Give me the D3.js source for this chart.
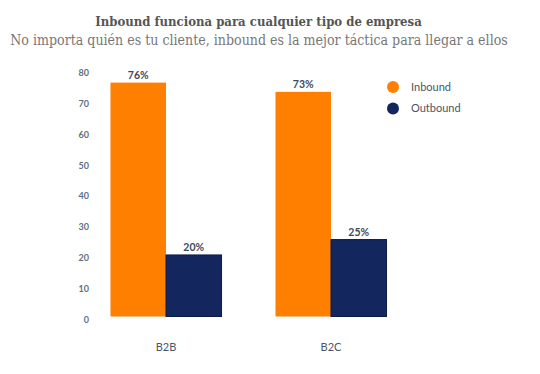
<!DOCTYPE html>
<html>
<head>
<meta charset="utf-8">
<script src="https://cdn.jsdelivr.net/npm/d3@7"></script>
<style>
  body { margin: 0; background: #fff; }
  svg { display: block; }
</style>
</head>
<body>
<svg id="chart" width="540" height="374"></svg>
<script>
// Chart data
const categories = ['B2B', 'B2C'];
const seriesNames = ['Inbound', 'Outbound'];
const inboundValues = [76, 73];
const outboundValues = [20, 25];
const yTicks = [0, 10, 20, 30, 40, 50, 60, 70, 80];

const colors = { Inbound: '#ff7f00', Outbound: '#13275e' };
const textColor = '#3d4a5c';
const axisColor = '#5f6f82';

const svg = d3.select('#chart');

// Serif heading squeezed to the reference width (no slab font installed)
function heading(text, cx, cy, size, weight, fill, targetWidth) {
  const t = svg.append('text')
    .attr('text-anchor', 'middle')
    .attr('font-family', '"DejaVu Serif", serif')
    .attr('font-weight', weight)
    .attr('font-size', size)
    .attr('fill', fill)
    .text(text);
  const natural = t.node().getComputedTextLength();
  const k = Math.min(1, targetWidth / natural);
  t.attr('transform', `translate(${cx},${cy}) scale(${k},1)`);
}

heading('Inbound funciona para cualquier tipo de empresa', 258.5, 26, 13.5, 'bold', '#555', 327);
heading('No importa quién es tu cliente, inbound es la mejor táctica para llegar a ellos', 259, 45, 14.5, 'normal', '#777', 498);

// Scales
const x0 = d3.scaleBand()
  .domain(categories)
  .range([83.5, 413.5])
  .paddingInner(0.327)
  .paddingOuter(0.1635);

const x1 = d3.scaleBand()
  .domain(seriesNames)
  .range([0, x0.bandwidth()]);

const y = d3.scaleLinear()
  .domain([0, 80])
  .range([316.5, 70.3]);

// Y axis (labels only)
const yAxis = svg.append('g')
  .attr('transform', 'translate(89,0)')
  .call(d3.axisLeft(y).tickValues(yTicks).tickSize(0).tickPadding(0));
yAxis.select('.domain').remove();
yAxis.selectAll('text')
  .attr('dy', '0.62em')
  .attr('font-family', 'Lato, sans-serif')
  .attr('font-weight', 'bold')
  .attr('font-size', 9)
  .attr('fill', axisColor);

// X axis (labels only)
const xAxis = svg.append('g')
  .attr('transform', 'translate(0,316.5)')
  .call(d3.axisBottom(x0).tickSize(0).tickPadding(0));
xAxis.select('.domain').remove();
xAxis.selectAll('text')
  .attr('dy', 0)
  .attr('y', 34.5)
  .attr('font-family', 'Lato, sans-serif')
  .attr('font-size', 11)
  .attr('fill', '#4a5566');

// Bars
const rows = categories.map((c, i) => ({
  category: c,
  values: [
    { series: 'Inbound', value: inboundValues[i] },
    { series: 'Outbound', value: outboundValues[i] }
  ]
}));

const groups = svg.append('g').attr('class', 'bars')
  .selectAll('g')
  .data(rows)
  .join('g')
  .attr('transform', d => `translate(${x0(d.category)},0)`);

groups.selectAll('rect')
  .data(d => d.values)
  .join('rect')
  .attr('x', d => x1(d.series))
  .attr('y', d => y(d.value))
  .attr('width', x1.bandwidth())
  .attr('height', d => y(0) - y(d.value))
  .attr('fill', d => colors[d.series])
  .attr('stroke', d => d.series === 'Outbound' ? '#0b1a4a' : 'none')
  .attr('stroke-width', 1);

groups.selectAll('text')
  .data(d => d.values)
  .join('text')
  .attr('x', d => x1(d.series) + x1.bandwidth() / 2)
  .attr('y', d => y(d.value) - 4)
  .attr('text-anchor', 'middle')
  .attr('font-family', 'Lato, sans-serif')
  .attr('font-weight', 'bold')
  .attr('font-size', 10.5)
  .attr('fill', textColor)
  .text(d => `${d.value}%`);

// Legend
const legend = svg.append('g')
  .attr('transform', 'translate(393,87)')
  .selectAll('g')
  .data(seriesNames)
  .join('g')
  .attr('transform', (d, i) => `translate(0,${i * 21.5})`);

legend.append('circle')
  .attr('r', 6)
  .attr('fill', d => colors[d]);

legend.append('text')
  .attr('x', 18)
  .attr('dy', '0.35em')
  .attr('font-family', 'Lato, sans-serif')
  .attr('font-size', 11)
  .attr('fill', '#4a5566')
  .text(d => d);
</script>
</body>
</html>
